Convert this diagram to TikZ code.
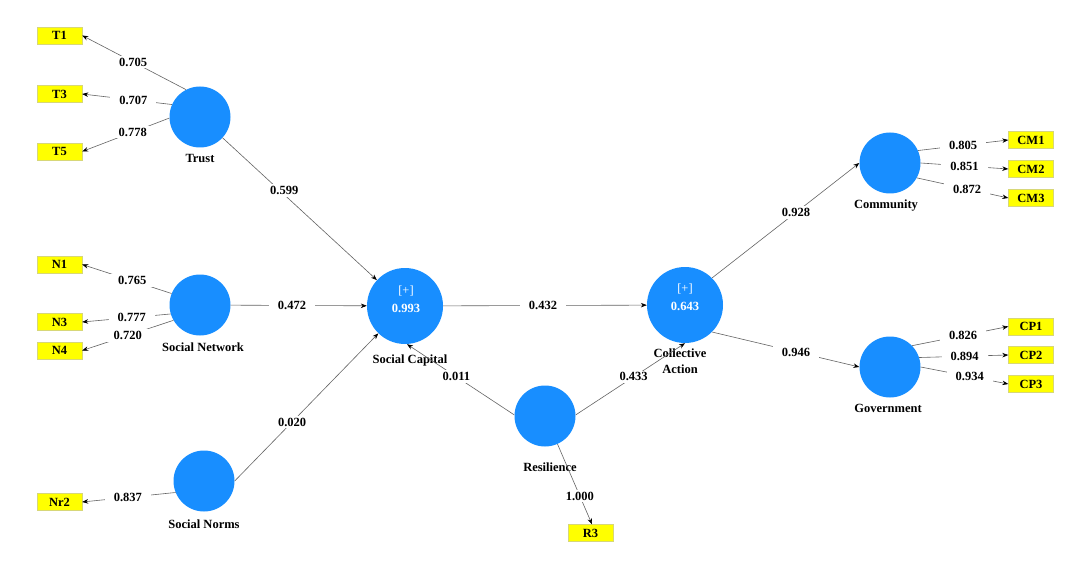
\documentclass[tikz,border=0pt]{standalone}
\usepackage{fontspec}
\setmainfont{Liberation Serif}
\usetikzlibrary{arrows.meta}
\definecolor{cblue}{RGB}{24,142,255}
\definecolor{boxy}{RGB}{255,255,0}
\definecolor{lin}{RGB}{100,100,100}
\tikzset{
  lv/.style={circle, fill=cblue, draw=none, minimum size=61pt, inner sep=0pt},
  lvbig/.style={circle, fill=cblue, draw=none, minimum size=76pt, inner sep=0pt},
  ind/.style={rectangle, fill=boxy, draw={rgb,255:red,215;green,215;blue,120}, line width=0.4pt,
     minimum width=45pt, minimum height=17pt, inner sep=0pt, font=\fontsize{12.5}{14}\selectfont\bfseries},
  lbl/.style={font=\fontsize{12.5}{14}\selectfont\bfseries, inner sep=0pt, text=black},
  inl/.style={font=\fontsize{12.5}{14}\selectfont, inner sep=0pt, text=white},
  wl/.style={font=\fontsize{12.5}{14}\selectfont\bfseries, fill=white, inner xsep=9pt, inner ysep=2pt, text=black},
  arr/.style={draw=lin, line width=0.6pt, -{Stealth[length=6pt,width=4.5pt,color=black]}},
}
\begin{document}
\begin{tikzpicture}[x=1pt,y=-1pt]
\useasboundingbox[fill=white] (0,0) rectangle (1080,567);

% latent variables
\node[lv] (trust) at (200,117) {};
\node[lv] (snet) at (200,305) {};
\node[lv] (snorm) at (204,481) {};
\node[lvbig] (sc) at (405,306) {};
\node[lvbig] (ca) at (685,305) {};
\node[lv] (res) at (545,416) {};
\node[lv] (comm) at (890,163) {};
\node[lv] (gov) at (890,367) {};

% inner texts
\node[inl] (scp) at (406,291) {[+]};
\node[inl, font=\fontsize{12.5}{14}\selectfont\bfseries] (scv) at (406,308) {0.993};
\node[inl] (cap) at (685,289) {[+]};
\node[inl, font=\fontsize{12.5}{14}\selectfont\bfseries] (cav) at (685,306) {0.643};

% construct labels
\node[lbl] (trustl) at (200,158) {Trust};
\node[lbl] (snetl) at (203,347) {Social Network};
\node[lbl] (snorml) at (204,524) {Social Norms};
\node[lbl] (scl) at (410,360) {Social Capital};
\node[lbl] (cal1) at (680,353) {Collective};
\node[lbl] (cal2) at (680,369) {Action};
\node[lbl] (resl) at (550,467) {Resilience};
\node[lbl] (comml) at (886,206) {Community};
\node[lbl] (govl) at (888,408) {Government};

% indicators
\node[ind] (t1) at (59.5,35.5) {T1};
\node[ind] (t3) at (59.5,94) {T3};
\node[ind] (t5) at (59.5,151.5) {T5};
\node[ind] (n1) at (59.5,264.5) {N1};
\node[ind] (n3) at (59.5,322) {N3};
\node[ind] (n4) at (59.5,350.5) {N4};
\node[ind] (nr2) at (59.5,502) {Nr2};
\node[ind] (r3) at (590.5,533) {R3};
\node[ind] (cm1) at (1031,140) {CM1};
\node[ind] (cm2) at (1031,169) {CM2};
\node[ind] (cm3) at (1031,198) {CM3};
\node[ind] (cp1) at (1031,326.5) {CP1};
\node[ind] (cp2) at (1031,355) {CP2};
\node[ind] (cp3) at (1031,384) {CP3};

% outer loadings
\draw[arr] (trust.117) -- node[wl, pos=0.51] {0.705} (t1.east);
\draw[arr] (trust.156) -- node[wl, pos=0.43] {0.707} (t3.east);
\draw[arr] (trust.182) -- node[wl, pos=0.42] {0.778} (t5.east);
\draw[arr] (snet.158) -- node[wl, pos=0.44] {0.765} (n1.east);
\draw[arr] (snet.197) -- node[wl, pos=0.44] {0.777} (n3.east);
\draw[arr] (snet.210) -- node[wl, pos=0.50] {0.720} (n4.east);
\draw[arr] (snorm.202) -- node[wl, pos=0.51] {0.837} (nr2.east);
\draw[arr] (comm.24) -- node[wl, pos=0.50] {0.805} (cm1.west);
\draw[arr] (comm.0) -- node[wl, pos=0.50] {0.851} (cm2.west);
\draw[arr] (comm.-29) -- node[wl, pos=0.55] {0.872} (cm3.west);
\draw[arr] (gov.44) -- node[wl, pos=0.53] {0.826} (cp1.west);
\draw[arr] (gov.18) -- node[wl, pos=0.51] {0.894} (cp2.west);
\draw[arr] (gov.0) -- node[wl, pos=0.56] {0.934} (cp3.west);
\draw[arr] (res.-66) -- node[wl, pos=0.65] {1.000} ([xshift=1.5pt]r3.north);

% inner model
\draw[arr] (trust) -- node[wl, pos=0.40, yshift=4pt] {0.599} (sc);
\draw[arr] (snet) -- node[wl, pos=0.45] {0.472} (sc);
\draw[arr] (snorm.east) -- node[wl, pos=0.40] {0.020} (sc);
\draw[arr] (sc) -- node[wl, pos=0.49] {0.432} (ca);
\draw[arr] (res.178) -- node[wl, pos=0.54] {0.011} ([xshift=2pt]sc.south);
\draw[arr] (res.2) -- node[wl, pos=0.53] {0.433} (ca.south);
\draw[arr] (ca.45) -- node[wl, pos=0.57] {0.928} (comm.west);
\draw[arr] (ca.-45) -- node[wl, pos=0.57] {0.946} (gov.west);
\end{tikzpicture}
\end{document}
